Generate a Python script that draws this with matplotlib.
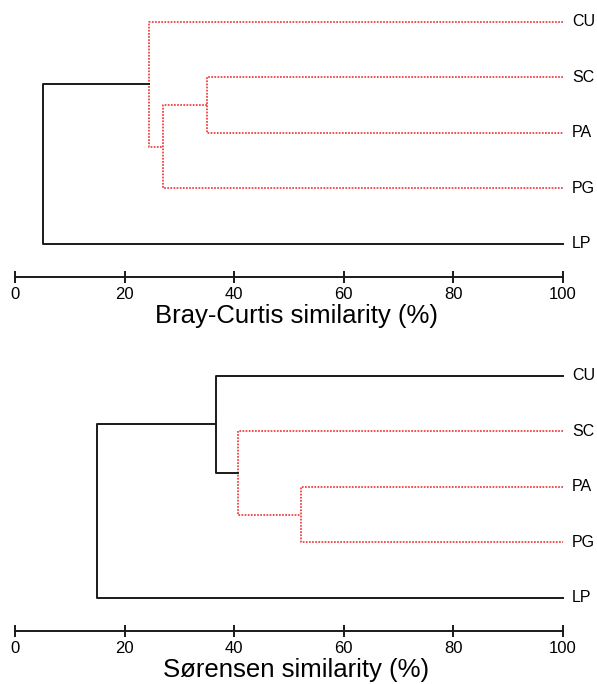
import matplotlib
matplotlib.use('Agg')
import matplotlib.pyplot as plt

plt.rcParams['font.family'] = ['Liberation Sans', 'DejaVu Sans']

# leaf order, top to bottom
leaves = ['CU', 'SC', 'PA', 'PG', 'LP']

# merges: (child a, child b, similarity %); ints refer to earlier merges
bc_merges = [('SC', 'PA', 35.0), (0, 'PG', 27.0), ('CU', 1, 24.5), (2, 'LP', 5.1)]
bc_red = [0, 1, 2]          # merges drawn as dotted red groups

sor_merges = [('PA', 'PG', 52.2), ('SC', 0, 40.7), ('CU', 1, 36.7), (2, 'LP', 15.0)]
sor_red = [0, 1]

xticks = [0, 20, 40, 60, 80, 100]

BLACK = '#1a1a1a'
RED = '#f03a3a'


def draw_dendro(ax, merges, red, xlabel):
    pos = {}
    for i, name in enumerate(leaves):
        pos[name] = (100.0, i)
    for k, (a, b, h) in enumerate(merges):
        xa, ya = pos[a]
        xb, yb = pos[b]
        if k in red:
            ax.plot([xa, h, h, xb], [ya, ya, yb, yb], color=RED,
                    ls=(0, (1, 0.8)), lw=1.25, clip_on=False, zorder=2)
        else:
            ax.plot([xa, h, h, xb], [ya, ya, yb, yb], color=BLACK, ls='-',
                    lw=1.4, clip_on=False, zorder=3)
        pos[k] = (h, (ya + yb) / 2.0)
    for i, name in enumerate(leaves):
        ax.text(101.6, i, name, va='center', ha='left', fontsize=11.5)

    ax.set_xlim(0, 100)
    ax.set_ylim(4.6, -0.216)
    ax.set_xticks(xticks)
    ax.set_yticks([])
    for s in ['left', 'top', 'right']:
        ax.spines[s].set_visible(False)
    ax.spines['bottom'].set_linewidth(1.4)
    ax.spines['bottom'].set_color(BLACK)
    ax.tick_params(axis='x', direction='inout', length=9, width=1.4,
                   labelsize=12, pad=3, color=BLACK)
    ax.set_xlabel(xlabel, fontsize=18.5)
    ax.xaxis.label.set_verticalalignment('baseline')
    ax.xaxis.set_label_coords(0.513, -46 / 267)


fig = plt.figure(figsize=(5.97, 6.84), dpi=100)
ax1 = fig.add_axes([15 / 597, (684 - 277) / 684, 548 / 597, 267 / 684])
draw_dendro(ax1, bc_merges, bc_red, 'Bray-Curtis similarity (%)')

ax2 = fig.add_axes([15 / 597, (684 - 631) / 684, 548 / 597, 267 / 684])
draw_dendro(ax2, sor_merges, sor_red, 'Sørensen similarity (%)')

fig.savefig('out.png', dpi=100)
